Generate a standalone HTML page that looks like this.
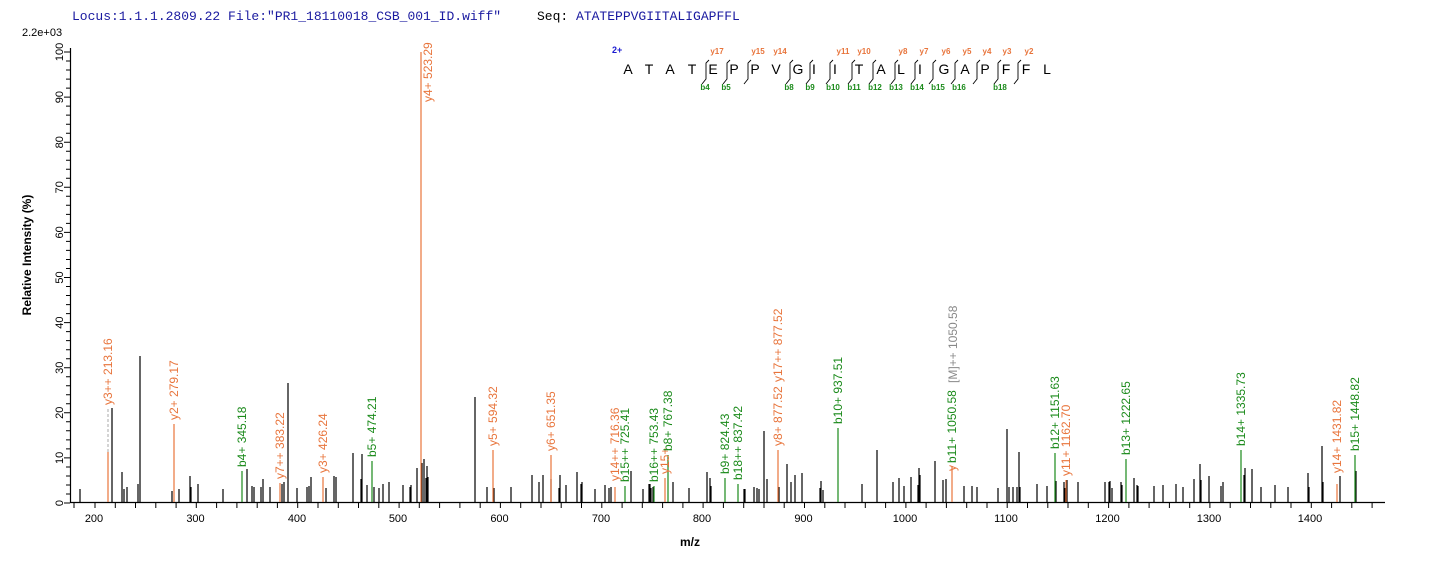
<!DOCTYPE html>
<html><head><meta charset="utf-8"><style>
html,body{margin:0;padding:0;background:#fff;}
svg{display:block;}
.ax{font-family:"Liberation Sans",Arial,sans-serif;font-size:11px;fill:#000;}
.o{fill:#e8743b;font-family:"Liberation Sans",Arial,sans-serif;font-size:12px;}
.g{fill:#1a8a1a;font-family:"Liberation Sans",Arial,sans-serif;font-size:12px;}
.gr{fill:#888;font-family:"Liberation Sans",Arial,sans-serif;font-size:12px;}
.pl{font-family:"Liberation Sans",Arial,sans-serif;font-size:14px;fill:#000;}
.py{font-family:"Liberation Sans",Arial,sans-serif;font-size:8px;fill:#e8743b;font-weight:bold;}
.pb{font-family:"Liberation Sans",Arial,sans-serif;font-size:8px;fill:#1a8a1a;font-weight:bold;}
</style></head><body>
<svg width="1436" height="562" xmlns="http://www.w3.org/2000/svg">
<text x="72" y="20" font-family="Liberation Mono,monospace" font-size="13" fill="#1a1aa0">Locus:1.1.1.2809.22 File:"PR1_18110018_CSB_001_ID.wiff"</text>
<text x="537" y="20" font-family="Liberation Mono,monospace" font-size="13" fill="#1a1aa0"><tspan fill="#000">Seq:</tspan> ATATEPPVGIITALIGAPFFL</text>
<text x="22" y="36" class="ax" font-size="13">2.2e+03</text>

<!-- axes -->
<path d="M70.5 48 V503 M70 502.5 H1385" stroke="#000" stroke-width="1.2" fill="none"/>
<path stroke="#000" stroke-width="1" fill="none" d="M64 503H70M64 457.9H70M64 412.8H70M64 367.7H70M64 322.6H70M64 277.5H70M64 232.4H70M64 187.3H70M64 142.2H70M64 97.1H70M64 52H70
M66 494H70M66 485H70M66 476H70M66 467H70M66 448.9H70M66 439.9H70M66 430.8H70M66 421.8H70M66 403.8H70M66 394.8H70M66 385.7H70M66 376.7H70M66 358.7H70M66 349.7H70M66 340.6H70M66 331.6H70M66 313.6H70M66 304.6H70M66 295.5H70M66 286.5H70M66 268.5H70M66 259.5H70M66 250.4H70M66 241.4H70M66 223.4H70M66 214.4H70M66 205.3H70M66 196.3H70M66 178.3H70M66 169.3H70M66 160.2H70M66 151.2H70M66 133.2H70M66 124.2H70M66 115.1H70M66 106.1H70M66 88.1H70M66 79.1H70M66 70H70M66 61H70"/>
<g class="ax">
<text transform="translate(63,503) rotate(-90)" text-anchor="middle">0</text>
<text transform="translate(63,457.9) rotate(-90)" text-anchor="middle">10</text>
<text transform="translate(63,412.8) rotate(-90)" text-anchor="middle">20</text>
<text transform="translate(63,367.7) rotate(-90)" text-anchor="middle">30</text>
<text transform="translate(63,322.6) rotate(-90)" text-anchor="middle">40</text>
<text transform="translate(63,277.5) rotate(-90)" text-anchor="middle">50</text>
<text transform="translate(63,232.4) rotate(-90)" text-anchor="middle">60</text>
<text transform="translate(63,187.3) rotate(-90)" text-anchor="middle">70</text>
<text transform="translate(63,142.2) rotate(-90)" text-anchor="middle">80</text>
<text transform="translate(63,97.1) rotate(-90)" text-anchor="middle">90</text>
<text transform="translate(63,52) rotate(-90)" text-anchor="middle">100</text>
</g>
<text transform="translate(31,255) rotate(-90)" text-anchor="middle" font-family="Liberation Sans,Arial,sans-serif" font-size="12" font-weight="bold">Relative   Intensity (%)</text>

<path stroke="#000" stroke-width="1" fill="none" d="M74 503V508M95 503V508M115.3 503V508M135.5 503V508M155.8 503V508M176.1 503V508M196.3 503V508M216.6 503V508M236.9 503V508M257.2 503V508M277.4 503V508M297.7 503V508M318 503V508M338.3 503V508M358.5 503V508M378.8 503V508M399.1 503V508M419.3 503V508M439.6 503V508M459.9 503V508M480.2 503V508M500.4 503V508M520.7 503V508M541 503V508M561.2 503V508M581.5 503V508M601.8 503V508M622.1 503V508M642.3 503V508M662.6 503V508M682.9 503V508M703.1 503V508M723.4 503V508M743.7 503V508M764 503V508M784.2 503V508M804.5 503V508M824.8 503V508M845 503V508M865.3 503V508M885.6 503V508M905.9 503V508M926.1 503V508M946.4 503V508M966.7 503V508M987 503V508M1007.2 503V508M1027.5 503V508M1047.8 503V508M1068 503V508M1088.3 503V508M1108.6 503V508M1128.9 503V508M1149.1 503V508M1169.4 503V508M1189.7 503V508M1209.9 503V508M1230.2 503V508M1250.5 503V508M1270.8 503V508M1291 503V508M1311.3 503V508M1331.6 503V508M1351.8 503V508M1372.1 503V508"/>
<g class="ax" text-anchor="middle">
<text x="94" y="522">200</text><text x="195.5" y="522">300</text><text x="297" y="522">400</text><text x="398" y="522">500</text><text x="499.5" y="522">600</text><text x="601" y="522">700</text><text x="702" y="522">800</text><text x="803.5" y="522">900</text><text x="905" y="522">1000</text><text x="1006" y="522">1100</text><text x="1107.5" y="522">1200</text><text x="1209" y="522">1300</text><text x="1310" y="522">1400</text>
</g>
<text x="690" y="546" text-anchor="middle" font-family="Liberation Sans,Arial,sans-serif" font-size="12" font-weight="bold">m/z</text>

<!-- black peaks -->
<path stroke="#000" stroke-width="1.2" fill="none" d="M80 502V489M112 502V408M122 502V472M124 502V489M127 502V487M138 502V484M140 502V356M172 502V491M179 502V489M190 502V476M191 502V487M198 502V484M223 502V489M247 502V469M252 502V486M254 502V487M261 502V487M263 502V479M270 502V487M282 502V484M284 502V482M288 502V383M297 502V488M307 502V487M309 502V486M311 502V477M326 502V488M334 502V476M336 502V477M353 502V453M361 502V479M362 502V454M367 502V485M374 502V487M379 502V488M383 502V484M389 502V482M403 502V485M410 502V487M411 502V485M417 502V468M422 502V463M424 502V459M426 502V478M427 502V466M428 502V477M475 502V397M487 502V487M494 502V488M511 502V487M532 502V475M539 502V482M543 502V475M551 502V479M559 502V488M560 502V475M566 502V485M577 502V472M581 502V484M582 502V482M595 502V489M605 502V485M609 502V488M611 502V487M631 502V471M643 502V489M649 502V484M650 502V484M651 502V488M653 502V487M673 502V482M689 502V488M707 502V472M710 502V478M711 502V486M744 502V489M745 502V489M754 502V487M757 502V488M759 502V489M764 502V431M767 502V479M779 502V487M787 502V464M791 502V482M795 502V475M802 502V473M820 502V488M821 502V481M823 502V490M862 502V484M877 502V450M893 502V482M899 502V478M904 502V486M911 502V477M918 502V485M919 502V468M920 502V475M935 502V461M943 502V480M946 502V479M964 502V486M972 502V486M977 502V487M998 502V488M1007 502V429M1009 502V487M1013 502V487M1017 502V487M1019 502V452M1020 502V487M1037 502V484M1047 502V486M1056 502V481M1064 502V482M1065 502V488M1067 502V480M1078 502V482M1105 502V482M1109 502V482M1110 502V481M1112 502V488M1121 502V482M1122 502V485M1134 502V478M1137 502V485M1138 502V486M1154 502V486M1163 502V485M1176 502V484M1183 502V487M1194 502V479M1200 502V464M1201 502V480M1209 502V476M1221 502V486M1223 502V482M1244 502V475M1245 502V468M1252 502V469M1261 502V487M1275 502V485M1288 502V487M1308 502V473M1309 502V487M1322 502V446M1323 502V482M1340 502V476M1356 502V471"/>

<!-- orange peaks -->
<path stroke="#e8743b" stroke-width="1.2" fill="none" d="M108 502V452M174 502V424M280 502V483M323 502V477M421 502V52M493 502V450M551 502V455M615 502V487M665 502V478M778 502V450M952 502V466M1066 502V480M1337 502V484"/>
<path stroke="#aaa" stroke-width="1" stroke-dasharray="3,2" fill="none" d="M108 452V408"/>
<!-- green peaks -->
<path stroke="#1a8a1a" stroke-width="1.2" fill="none" d="M242 502V471M372 502V461M625 502V486M654 502V486M668 502V455M725 502V478M738 502V484M838 502V428M1055 502V453M1126 502V459M1241 502V450M1355 502V455"/>

<!-- labels -->
<text class="o" transform="translate(112,405) rotate(-90)">y3++ 213.16</text>
<text class="o" transform="translate(178,420) rotate(-90)">y2+ 279.17</text>
<text class="g" transform="translate(246,467) rotate(-90)">b4+ 345.18</text>
<text class="o" transform="translate(284,479) rotate(-90)">y7++ 383.22</text>
<text class="o" transform="translate(327,473) rotate(-90)">y3+ 426.24</text>
<text class="g" transform="translate(376,457) rotate(-90)">b5+ 474.21</text>
<text class="o" transform="translate(432,102) rotate(-90)">y4+ 523.29</text>
<text class="o" transform="translate(497,446) rotate(-90)">y5+ 594.32</text>
<text class="o" transform="translate(555,451) rotate(-90)">y6+ 651.35</text>
<text class="o" transform="translate(619,481) rotate(-90)">y14++ 716.36</text>
<text class="g" transform="translate(629,482) rotate(-90)">b15++ 725.41</text>
<text class="g" transform="translate(658,482) rotate(-90)">b16++ 753.43</text>
<text class="o" transform="translate(669,474) rotate(-90)">y15+</text>
<text class="g" transform="translate(672,451) rotate(-90)">b8+ 767.38</text>
<text class="g" transform="translate(729,474) rotate(-90)">b9+ 824.43</text>
<text class="g" transform="translate(742,480) rotate(-90)">b18++ 837.42</text>
<text class="o" transform="translate(782,446) rotate(-90)">y8+ 877.52</text>
<text class="o" transform="translate(782,382) rotate(-90)">y17++ 877.52</text>
<text class="g" transform="translate(842,424) rotate(-90)">b10+ 937.51</text>
<text class="gr" transform="translate(957,383) rotate(-90)">[M]++ 1050.58</text>
<text transform="translate(956,471) rotate(-90)"><tspan class="o">y</tspan><tspan class="g" dx="2">b11+ 1050.58</tspan></text>
<text class="g" transform="translate(1059,449) rotate(-90)">b12+ 1151.63</text>
<text class="o" transform="translate(1070,476) rotate(-90)">y11+ 1162.70</text>
<text class="g" transform="translate(1130,455) rotate(-90)">b13+ 1222.65</text>
<text class="g" transform="translate(1245,446) rotate(-90)">b14+ 1335.73</text>
<text class="o" transform="translate(1341,473) rotate(-90)">y14+ 1431.82</text>
<text class="g" transform="translate(1359,451) rotate(-90)">b15+ 1448.82</text>

<!-- peptide -->
<text x="612" y="53" font-family="Liberation Sans,Arial,sans-serif" font-size="9" font-weight="bold" fill="#1a1ad0">2+</text>
<g class="pl" text-anchor="middle">
<text x="628" y="74">A</text><text x="649" y="74">T</text><text x="670" y="74">A</text><text x="692" y="74">T</text><text x="713" y="74">E</text><text x="734" y="74">P</text><text x="755" y="74">P</text><text x="776" y="74">V</text><text x="798" y="74">G</text><text x="814" y="74">I</text><text x="835" y="74">I</text><text x="859" y="74">T</text><text x="881" y="74">A</text><text x="901" y="74">L</text><text x="920" y="74">I</text><text x="944" y="74">G</text><text x="965" y="74">A</text><text x="985" y="74">P</text><text x="1006" y="74">F</text><text x="1026" y="74">F</text><text x="1047" y="74">L</text>
</g>
<path stroke="#000" stroke-width="0.9" fill="none" d="M702 84L706 79V63L709 60M723 84L727 79V63L730 60M744 84L748 79V63L751 60M786 84L790 79V63L793 60M806 84L810 79V63L813 60M826 84L830 79V63L833 60M848 84L852 79V63L855 60M869 84L873 79V63L876 60M891 84L895 79V63L898 60M911 84L915 79V63L918 60M929 84L933 79V63L936 60M951 84L955 79V63L958 60M973 84L977 79V63L980 60M994 84L998 79V63L1001 60M1014 84L1018 79V63L1021 60"/>
<g class="py" text-anchor="middle">
<text x="717" y="54">y17</text><text x="758" y="54">y15</text><text x="780" y="54">y14</text><text x="843" y="54">y11</text><text x="864" y="54">y10</text><text x="903" y="54">y8</text><text x="924" y="54">y7</text><text x="946" y="54">y6</text><text x="967" y="54">y5</text><text x="987" y="54">y4</text><text x="1007" y="54">y3</text><text x="1029" y="54">y2</text>
</g>
<g class="pb" text-anchor="middle">
<text x="705" y="90">b4</text><text x="726" y="90">b5</text><text x="789" y="90">b8</text><text x="810" y="90">b9</text><text x="833" y="90">b10</text><text x="854" y="90">b11</text><text x="875" y="90">b12</text><text x="896" y="90">b13</text><text x="917" y="90">b14</text><text x="938" y="90">b15</text><text x="959" y="90">b16</text><text x="1000" y="90">b18</text>
</g>
</svg>
</body></html>
